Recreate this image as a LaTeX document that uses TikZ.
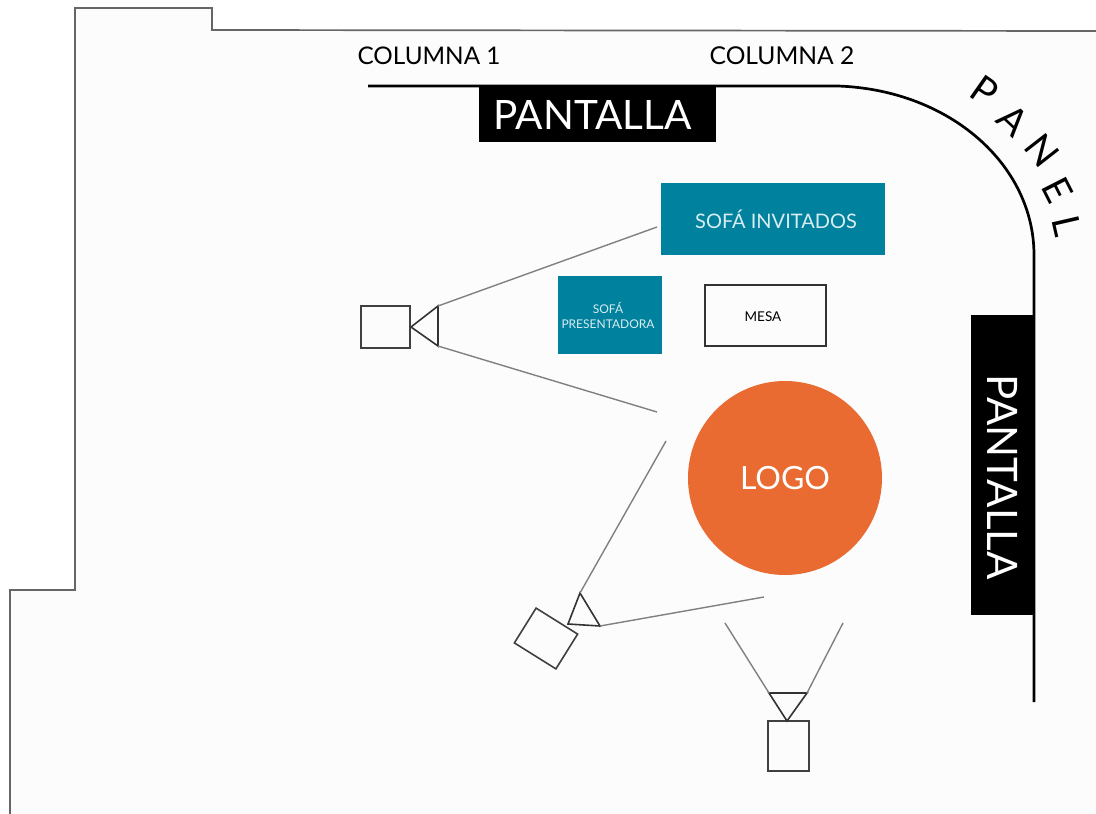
\documentclass[tikz,border=0pt]{standalone}
\usepackage{fontspec}
\setmainfont{Lato}
\definecolor{tealbox}{HTML}{00829F}
\definecolor{logoorange}{HTML}{E96B31}
\definecolor{floorc}{HTML}{FCFCFC}
\tikzset{
  lbl/.style={inner sep=0pt,font=\fontsize{#1}{#1}\selectfont},
  blackbox/.style={fill=black,draw=none,inner sep=0pt,text=white},
  tealrect/.style={fill=tealbox,draw=none,inner sep=0pt,text=white,align=center},
  cam/.style={draw=black!75,line width=1.6pt,fill=none,inner sep=0pt,minimum width=#1},
  lens/.style={draw=black!80,line width=1.6pt,line join=miter},
  sight/.style={draw=black!50,line width=1.4pt},
}
\begin{document}
\begin{tikzpicture}[x=1pt,y=-1pt]
\useasboundingbox (0,0) rectangle (1096,814);
\fill[white] (0,0) rectangle (1096,814);
% room
\fill[floorc] (75,8) -- (212,8) -- (212,30) -- (1096,30) -- (1096,814) -- (10,814) -- (10,590) -- (75,590) -- cycle;
\draw[black!60,line width=1.7pt] (1096,31) -- (212,30) -- (212,8) -- (75,8) -- (75,590) -- (10,590) -- (10,814);
% panel wall
\draw[black,line width=2.7pt] (368,86) -- (838,86) .. controls (950,90) and (1034,165) .. (1034,255) -- (1034,702);
% screens
\node[blackbox,minimum width=237pt,minimum height=57pt] (p1) at (597.5,113.5) {};
\node[lbl=40.5,text=white] (p1t) at (592.5,115) {PANTALLA};
\node[blackbox,minimum width=63pt,minimum height=300pt] (p2) at (1002.5,465) {};
\node[lbl=42,text=white,rotate=-90] (p2t) at (1003,477) {PANTALLA};
% labels
\node[lbl=24.3] (c1) at (429,56) {COLUMNA 1};
\node[lbl=24.6] (c2) at (782,56) {COLUMNA 2};
\node[lbl=38,rotate=-35] (lp) at (985,91) {P};
\node[lbl=38,rotate=-43] (la) at (1013,120) {A};
\node[lbl=38,rotate=-52] (ln) at (1042,151) {N};
\node[lbl=38,rotate=-63] (le) at (1058,190) {E};
\node[lbl=38,rotate=-77] (ll) at (1067,226) {L};
% furniture
\node[tealrect,minimum width=224pt,minimum height=72pt] (si) at (773,219) {};
\node[lbl=20,text=white!85!tealbox] (sit) at (776,219) {SOFÁ INVITADOS};
\node[tealrect,minimum width=104pt,minimum height=78pt] (sp) at (610,315) {};
\node[lbl=12,text=white!85!tealbox,align=center] (spt) at (608,315) {SOFÁ\\[3pt]PRESENTADORA};
\node[draw=black!80,line width=1.6pt,minimum width=121pt,minimum height=61pt,inner sep=0pt] (me) at (765.5,315.5) {};
\node[lbl=13.5] (met) at (763,317) {MESA};
\node[circle,fill=logoorange,minimum size=194pt,inner sep=0pt,text=white,lbl=32] (lo) at (785,478) {LOGO};
% camera 1
\node[cam=49pt,minimum height=42pt] (c1b) at (385.5,327) {};
\coordinate (c1a) at (411,327);
\coordinate (c1u) at (438,306);
\coordinate (c1d) at (438,346);
\coordinate (c1e) at (657,227);
\coordinate (c1f) at (657,412);
\draw[lens] (c1a) -- (c1u) -- (c1d) -- cycle;
\draw[sight] (c1u) -- (c1e);
\draw[sight] (c1d) -- (c1f);
% camera 2
\node[cam=49pt,minimum height=41pt,rotate=-32] (c2b) at (546,638.5) {};
\coordinate (c2a) at (568,624);
\coordinate (c2u) at (580,593);
\coordinate (c2d) at (600,626);
\coordinate (c2e) at (666,441);
\coordinate (c2f) at (764,597);
\draw[lens] (c2a) -- (c2u) -- (c2d) -- cycle;
\draw[sight] (c2u) -- (c2e);
\draw[sight] (c2d) -- (c2f);
% camera 3
\node[cam=41pt,minimum height=50pt] (c3b) at (788.5,746) {};
\coordinate (c3a) at (787,721);
\coordinate (c3u) at (769,693);
\coordinate (c3d) at (807,693);
\coordinate (c3e) at (725,623);
\coordinate (c3f) at (843,623);
\draw[lens] (c3a) -- (c3u) -- (c3d) -- cycle;
\draw[sight] (c3u) -- (c3e);
\draw[sight] (c3d) -- (c3f);
\end{tikzpicture}
\end{document}
